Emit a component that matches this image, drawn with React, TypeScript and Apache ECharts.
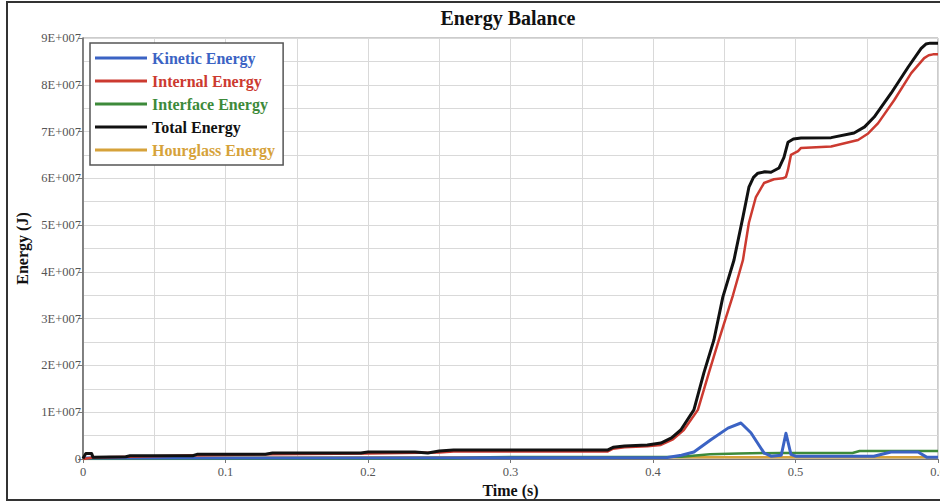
import React, { useEffect, useRef } from "react";
import * as echarts from "echarts";

// Time (s) and energy (J) samples
const totalTime = [0, 0.002, 0.006, 0.007, 0.03, 0.033, 0.077, 0.08, 0.128, 0.133, 0.195, 0.2, 0.233, 0.242, 0.25, 0.26, 0.368, 0.372, 0.38, 0.396, 0.4055, 0.413, 0.4195, 0.4287, 0.4357, 0.4427, 0.449, 0.4568, 0.4631, 0.4673, 0.4705, 0.4736, 0.4785, 0.4828, 0.4884, 0.4919, 0.4947, 0.4985, 0.5039, 0.525, 0.5411, 0.5485, 0.5552, 0.5671, 0.5791, 0.5882, 0.5915, 0.5945, 0.6];
const totalEnergy = [0.01e7, 0.12e7, 0.12e7, 0.04e7, 0.05e7, 0.07e7, 0.07e7, 0.1e7, 0.1e7, 0.13e7, 0.13e7, 0.15e7, 0.15e7, 0.13e7, 0.17e7, 0.19e7, 0.19e7, 0.25e7, 0.28e7, 0.3e7, 0.34e7, 0.45e7, 0.62e7, 1.05e7, 1.84e7, 2.54e7, 3.46e7, 4.25e7, 5.17e7, 5.81e7, 6.02e7, 6.11e7, 6.14e7, 6.13e7, 6.22e7, 6.45e7, 6.77e7, 6.84e7, 6.86e7, 6.87e7, 6.97e7, 7.1e7, 7.31e7, 7.82e7, 8.38e7, 8.78e7, 8.87e7, 8.89e7, 8.89e7];

const internalTime = [0, 0.007, 0.033, 0.08, 0.133, 0.2, 0.25, 0.26, 0.368, 0.372, 0.38, 0.396, 0.4055, 0.414, 0.4216, 0.4315, 0.4392, 0.4462, 0.4561, 0.4631, 0.4673, 0.4722, 0.4779, 0.4849, 0.4912, 0.4933, 0.4947, 0.4968, 0.5018, 0.5039, 0.525, 0.5439, 0.551, 0.558, 0.5692, 0.5812, 0.5903, 0.5935, 0.5965, 0.6];
const internalEnergy = [0, 0.03e7, 0.05e7, 0.08e7, 0.1e7, 0.12e7, 0.14e7, 0.16e7, 0.16e7, 0.22e7, 0.25e7, 0.27e7, 0.3e7, 0.42e7, 0.62e7, 1.05e7, 1.84e7, 2.54e7, 3.5e7, 4.25e7, 5.05e7, 5.6e7, 5.9e7, 5.98e7, 6.0e7, 6.03e7, 6.18e7, 6.5e7, 6.58e7, 6.65e7, 6.68e7, 6.82e7, 6.96e7, 7.18e7, 7.67e7, 8.25e7, 8.57e7, 8.63e7, 8.65e7, 8.65e7];

const kineticTime = [0, 0.41, 0.42, 0.4287, 0.4406, 0.4526, 0.4617, 0.4687, 0.4779, 0.4828, 0.49, 0.4933, 0.4968, 0.5, 0.555, 0.567, 0.586, 0.592, 0.6];
const kineticEnergy = [0.02e7, 0.03e7, 0.08e7, 0.15e7, 0.41e7, 0.66e7, 0.77e7, 0.56e7, 0.13e7, 0.06e7, 0.08e7, 0.55e7, 0.1e7, 0.06e7, 0.06e7, 0.15e7, 0.15e7, 0.04e7, 0.04e7];

const interfaceTime = [0, 0.26, 0.285, 0.42, 0.44, 0.46, 0.49, 0.54, 0.545, 0.6];
const interfaceEnergy = [0, 0.01e7, 0.04e7, 0.05e7, 0.1e7, 0.12e7, 0.13e7, 0.13e7, 0.17e7, 0.17e7];

const hourglassTime = [0, 0.01, 0.26, 0.6];
const hourglassEnergy = [0, 0.03e7, 0.04e7, 0.04e7];

const seriesNames = ["Kinetic Energy", "Internal Energy", "Interface Energy", "Total Energy", "Hourglass Energy"];
const seriesColors = ["#3b63c4", "#cc3a30", "#3d8a3a", "#111111", "#d6a23a"];
const seriesWidths = [3, 2.5, 2.5, 3, 2.5];

const xTicks = [0, 0.1, 0.2, 0.3, 0.4, 0.5, 0.6];
const yMax = 9e7;

const SERIF = "'Liberation Serif', 'DejaVu Serif', serif";

function zip(t: number[], v: number[]) {
  return t.map((x, i) => [x, v[i]]);
}

export default function App() {
  const ref = useRef<HTMLDivElement>(null);
  useEffect(() => {
    if (!ref.current) return;
    const chart = echarts.init(ref.current, undefined, { renderer: "svg" });
    const datasets = [
      zip(kineticTime, kineticEnergy),
      zip(internalTime, internalEnergy),
      zip(interfaceTime, interfaceEnergy),
      zip(totalTime, totalEnergy),
      zip(hourglassTime, hourglassEnergy),
    ];
    const drawOrder = [4, 2, 0, 1, 3];
    chart.setOption({
      animation: false,
      backgroundColor: "#ffffff",
      graphic: [
        {
          type: "rect",
          shape: { x: 7, y: 2, width: 945, height: 498 },
          style: { fill: "none", stroke: "#333", lineWidth: 2 },
          silent: true,
        },
        {
          type: "text",
          x: 508,
          y: 18,
          style: {
            text: "Energy Balance",
            fill: "#111",
            font: `bold 20px ${SERIF}`,
            textAlign: "center",
            textVerticalAlign: "middle",
          },
        },
      ],
      grid: {
        left: 83,
        right: 2,
        top: 38,
        bottom: 43,
        outerBoundsMode: "none",
        containLabel: false,
        show: true,
        borderColor: "#999",
        borderWidth: 1,
        backgroundColor: "#fff",
      },
      legend: {
        orient: "vertical",
        left: 90,
        top: 43,
        padding: [7, 8, 7, 5],
        itemGap: 7,
        itemWidth: 52,
        itemHeight: 3,
        icon: "rect",
        selectedMode: false,
        borderColor: "#555",
        borderWidth: 1.5,
        backgroundColor: "#fff",
        textStyle: { fontFamily: SERIF, fontWeight: "bold", fontSize: 16 },
        data: seriesNames.map((n, i) => ({ name: n, textStyle: { color: seriesColors[i] } })),
      },
      xAxis: {
        type: "value",
        min: xTicks[0],
        max: xTicks[xTicks.length - 1],
        interval: 0.1,
        name: "Time (s)",
        nameLocation: "middle",
        nameGap: 21,
        nameTextStyle: { fontFamily: SERIF, fontWeight: "bold", fontSize: 16, color: "#111" },
        axisLine: { show: true, lineStyle: { color: "#777", width: 1 } },
        axisTick: { show: true, length: 4, lineStyle: { color: "#777" } },
        axisLabel: {
          fontFamily: SERIF,
          fontSize: 12.5,
          color: "#555",
          margin: 6,
          hideOverlap: false,
          formatter: (v: number) => (v === 0 ? "0" : String(+v.toFixed(1))),
        },
        splitLine: { show: true, lineStyle: { color: "#d9d9d9", width: 1 } },
        minorTick: { show: false, splitNumber: 2 },
        minorSplitLine: { show: true, lineStyle: { color: "#d9d9d9", width: 1 } },
      },
      yAxis: {
        type: "value",
        min: 0,
        max: yMax,
        interval: 1e7,
        name: "Energy (J)",
        nameLocation: "middle",
        nameGap: 44,
        nameTextStyle: { fontFamily: SERIF, fontWeight: "bold", fontSize: 16, color: "#111" },
        axisLine: { show: true, lineStyle: { color: "#666", width: 1.5 } },
        axisTick: { show: true, length: 5, lineStyle: { color: "#777" } },
        axisLabel: {
          fontFamily: SERIF,
          fontSize: 12.5,
          color: "#555",
          margin: 2,
          formatter: (v: number) => (v === 0 ? "0" : `${Math.round(v / 1e7)}E+007`),
        },
        splitLine: { show: true, lineStyle: { color: "#d9d9d9", width: 1 } },
        minorTick: { show: false, splitNumber: 2 },
        minorSplitLine: { show: true, lineStyle: { color: "#d9d9d9", width: 1 } },
      },
      series: drawOrder.map((i) => ({
        type: "line",
        name: seriesNames[i],
        data: datasets[i],
        showSymbol: false,
        symbol: "none",
        smooth: false,
        color: seriesColors[i],
        lineStyle: { color: seriesColors[i], width: seriesWidths[i], join: "round" },
        z: 2 + drawOrder.indexOf(i),
      })),
    });
    return () => chart.dispose();
  }, []);
  return (
    <div
      ref={ref}
      style={{ position: "absolute", left: 0, top: 0, width: 940, height: 502 }}
    />
  );
}
